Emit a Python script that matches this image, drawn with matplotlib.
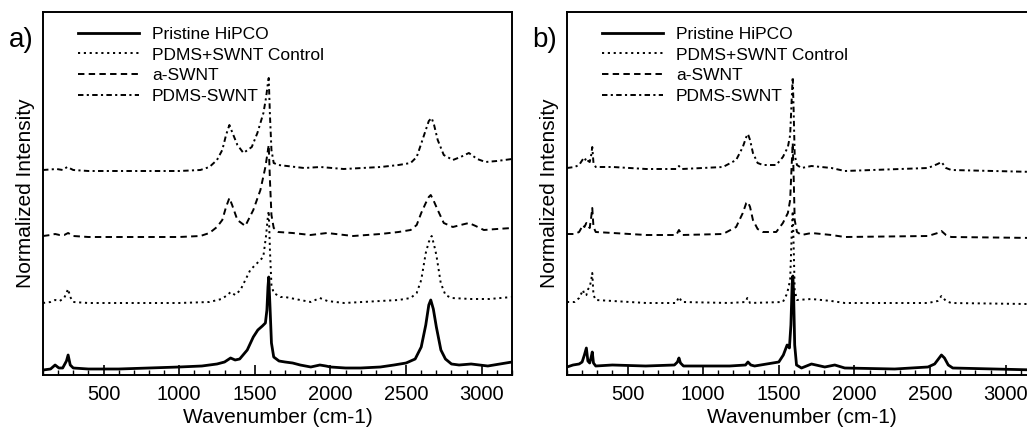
import matplotlib
matplotlib.use("Agg")
import matplotlib.pyplot as plt
from matplotlib.ticker import MultipleLocator

plt.rcParams['font.family'] = ['Liberation Sans', 'DejaVu Sans']

# === DATA (wavenumber in cm-1, normalized intensity with vertical offsets) ===
LABELS = ["Pristine HiPCO", "PDMS+SWNT Control", "a-SWNT", "PDMS-SWNT"]

# panel a
pristine_a_x = [100, 150, 180, 205, 230, 255, 266, 280, 300, 400, 600, 800, 1000, 1150, 1250, 1300,
                1340, 1370, 1400, 1450, 1490, 1520, 1550, 1570, 1580, 1587, 1592, 1600, 1610, 1625,
                1660, 1700, 1750, 1800, 1870, 1930, 1970, 2000, 2100, 2200, 2330, 2420, 2500, 2560,
                2600, 2630, 2650, 2663, 2680, 2700, 2730, 2760, 2800, 2850, 2930, 3040, 3200]
pristine_a_y = [5, 6, 10, 7, 7, 14, 20, 10, 7, 6, 6, 7, 8, 9, 11, 13,
                17, 15, 16, 25, 38, 45, 49, 52, 65, 88, 98, 70, 32, 18,
                14, 13, 12, 10, 8, 10, 9, 8, 7, 7, 8, 10, 12, 16,
                28, 50, 70, 75, 66, 48, 25, 16, 11, 10, 11, 9, 13]

control_a_x = [100, 150, 180, 210, 240, 255, 266, 280, 300, 400, 700, 1000, 1200, 1280, 1320, 1340,
               1370, 1405, 1470, 1523, 1556, 1575, 1584, 1592, 1600, 1610, 1625, 1670, 1700, 1800,
               1870, 1930, 1980, 2090, 2330, 2450, 2530, 2570, 2600, 2630, 2650, 2669, 2685, 2700,
               2729, 2760, 2800, 2930, 3050, 3200]
control_a_y = [72, 73, 75, 74, 77, 82, 86, 78, 73, 72, 72, 72, 73, 76, 80, 83,
               80, 85, 105, 113, 118, 140, 155, 164, 125, 90, 82, 78, 78, 75,
               73, 77, 74, 72, 74, 75, 77, 82, 95, 122, 133, 139, 130, 120,
               92, 80, 77, 76, 76, 78]

asWNT_a_x = [100, 150, 180, 210, 240, 266, 300, 400, 700, 1000, 1140, 1200, 1250, 1285, 1310, 1332,
             1350, 1385, 1437, 1490, 1537, 1570, 1584, 1592, 1600, 1610, 1625, 1656, 1750, 1868,
             1977, 2150, 2330, 2450, 2530, 2570, 2600, 2630, 2650, 2663, 2680, 2709, 2749, 2809,
             2860, 2915, 2960, 3014, 3100, 3200]
asWNT_a_y = [139, 140, 141, 140, 140, 142, 139, 138, 138, 138, 139, 142, 148, 155, 168, 177,
             170, 155, 149, 165, 185, 208, 222, 230, 195, 160, 147, 143, 142, 140,
             142, 139, 141, 143, 145, 150, 162, 172, 178, 180, 175, 165, 152, 148,
             150, 152, 149, 145, 146, 147]

pdms_a_x = [100, 190, 230, 260, 300, 400, 700, 1000, 1140, 1200, 1250, 1285, 1310, 1332, 1350, 1385,
            1425, 1480, 1517, 1557, 1575, 1585, 1592, 1600, 1610, 1625, 1656, 1825, 1934, 2087,
            2332, 2450, 2530, 2570, 2597, 2630, 2650, 2669, 2685, 2709, 2749, 2809, 2860, 2915,
            2970, 3025, 3100, 3200]
pdms_a_y = [205, 206, 205, 208, 205, 204, 204, 204, 205, 208, 215, 225, 240, 250, 243, 230,
            222, 228, 242, 262, 278, 290, 297, 260, 225, 212, 210, 207, 208, 206,
            208, 210, 212, 218, 230, 245, 254, 257, 250, 235, 220, 215, 218, 222,
            216, 213, 214, 216]

# panel b
pristine_b_x = [100, 140, 180, 200, 215, 228, 238, 250, 260, 267, 275, 290, 400, 620, 810, 830, 840,
                850, 870, 1175, 1280, 1296, 1315, 1340, 1500, 1530, 1555, 1570, 1580, 1588, 1593,
                1598, 1605, 1617, 1650, 1716, 1804, 1870, 1936, 2266, 2486, 2530, 2555, 2575, 2595,
                2620, 2650, 2926, 3200]
pristine_b_y = [8, 10, 11, 13, 20, 27, 14, 12, 18, 23, 12, 9, 10, 9, 10, 13, 17,
                12, 9, 9, 10, 13, 10, 9, 13, 20, 30, 27, 50, 90, 99,
                80, 30, 10, 7, 11, 8, 10, 7, 6, 8, 11, 16, 20, 17,
                10, 7, 6, 5]

control_b_x = [100, 150, 180, 206, 215, 228, 240, 250, 260, 267, 275, 290, 404, 624, 820, 840, 860,
               1175, 1280, 1292, 1310, 1527, 1550, 1560, 1575, 1585, 1592, 1598, 1605, 1620, 1716,
               1848, 1936, 2486, 2550, 2575, 2605, 2640, 3137, 3200]
control_b_y = [73, 73, 77, 85, 80, 80, 86, 88, 95, 102, 80, 75, 74, 72, 72, 78, 73,
               72, 73, 77, 72, 73, 80, 85, 95, 140, 164, 130, 85, 75, 76,
               74, 72, 72, 74, 79, 74, 72, 71, 71]

shared_b_x = [100, 150, 180, 206, 215, 228, 240, 250, 260, 267, 275, 290, 404, 624, 822, 840, 860,
              1131, 1218, 1262, 1285, 1296, 1310, 1329, 1360, 1395, 1483, 1527, 1560, 1575, 1585,
              1592, 1598, 1605, 1620, 1650, 1716, 1848, 1936, 2486, 2550, 2575, 2605, 2640, 3200]
asWNT_b_y = [141, 141, 143, 150, 148, 152, 149, 147, 158, 167, 148, 143, 142, 140, 140, 145, 140,
             141, 148, 162, 172, 173, 168, 155, 146, 143, 143, 152, 162, 175, 210,
             232, 200, 155, 143, 140, 142, 140, 138, 139, 142, 144, 140, 138, 137]
pdms_b_y = [207, 208, 210, 216, 214, 217, 214, 213, 220, 228, 212, 208, 208, 206, 206, 209, 206,
            208, 215, 228, 238, 241, 235, 222, 212, 210, 210, 218, 228, 240, 275,
            298, 265, 220, 210, 207, 209, 207, 204, 207, 211, 213, 207, 205, 203]

# === STYLE ===
STYLES = [
    dict(color="black", lw=2.0, linestyle="-"),
    dict(color="black", lw=1.4, linestyle=(0, (1.1, 1.9))),
    dict(color="black", lw=1.4, linestyle=(0, (3.3, 2.2))),
    dict(color="black", lw=1.4, linestyle=(0, (2.8, 1.7, 1.1, 1.7))),
]

W, H = 1027, 433


def make_panel(fig, left_px, tag, series):
    ax = fig.add_axes([left_px / W, (H - 375) / H, 469 / W, 363 / H])
    for (x, y), st, lab in zip(series, STYLES, LABELS):
        ax.plot(x, y, label=lab, **st)
    ax.set_xlim(100, 3200)
    ax.set_ylim(0, 363)
    ax.set_yticks([])
    ax.xaxis.set_major_locator(MultipleLocator(500))
    ax.xaxis.set_minor_locator(MultipleLocator(100))
    ax.tick_params(axis="x", which="major", direction="in", length=7, width=1.2,
                   labelsize=14.5, pad=7)
    ax.tick_params(axis="x", which="minor", direction="in", length=3.5, width=1.0)
    for s in ax.spines.values():
        s.set_linewidth(1.4)
    ax.set_xlabel("Wavenumber (cm-1)", fontsize=15, labelpad=3)
    ax.set_ylabel("Normalized Intensity", fontsize=15, labelpad=6)
    ax.legend(loc="upper left", bbox_to_anchor=(35 / 469, 0.96), frameon=False,
              fontsize=12.5, handlelength=3.5, handletextpad=0.75, labelspacing=0.33,
              borderpad=0, borderaxespad=0)
    fig.text((left_px - 22) / W, 1 - 40 / H, tag, fontsize=20, ha="center", va="center")
    return ax


fig = plt.figure(figsize=(W / 100, H / 100), dpi=100)
make_panel(fig, 43, "a)", [(pristine_a_x, pristine_a_y), (control_a_x, control_a_y),
                           (asWNT_a_x, asWNT_a_y), (pdms_a_x, pdms_a_y)])
make_panel(fig, 567, "b)", [(pristine_b_x, pristine_b_y), (control_b_x, control_b_y),
                            (shared_b_x, asWNT_b_y), (shared_b_x, pdms_b_y)])
fig.savefig("out.png", dpi=100)
